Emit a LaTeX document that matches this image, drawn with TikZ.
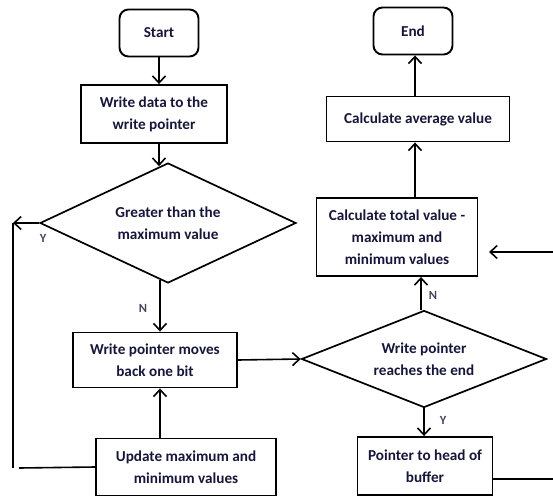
\documentclass[tikz,border=0pt]{standalone}
\usepackage{fontspec}
\setmainfont{Carlito}
\usetikzlibrary{shapes.geometric,arrows.meta}
\definecolor{ink}{RGB}{22,22,58}
\definecolor{lbl}{RGB}{70,68,90}
\begin{document}
\begin{tikzpicture}[x=1pt,y=-1pt,
  box/.style={draw,line width=1.9pt,rectangle,inner sep=0pt,text=ink,
    font=\bfseries\fontsize{15.2}{22}\selectfont,align=center},
  term/.style={box,rounded corners=9pt},
  decision/.style={draw,line width=1.7pt,diamond,shape aspect=2.2,inner sep=0pt,
    text=ink,font=\bfseries\fontsize{15.2}{22}\selectfont,align=center},
  flow/.style={line width=1.6pt,-{Straight Barb[length=7pt,width=13pt]}},
  link/.style={line width=1.6pt},
  lab/.style={text=lbl,font=\bfseries\fontsize{12.5}{14}\selectfont,inner sep=0pt}
]
\useasboundingbox (0,0) rectangle (553,497);

% left column
\node[term,minimum width=79pt,minimum height=47pt] (start) at (159,33) {Start};
\node[box,minimum width=146pt,minimum height=58pt] (write) at (154,114) {Write data to the\\write pointer};
\node[decision,minimum width=256pt,minimum height=120pt] (gt) at (168,223) {Greater than the\\maximum value};
\node[box,minimum width=164pt,minimum height=55pt] (wp) at (155,360) {Write pointer moves\\back one bit};
\node[box,minimum width=180pt,minimum height=57pt] (upd) at (186,467) {Update maximum and\\minimum values};

% right column
\node[term,minimum width=79pt,minimum height=47pt] (end) at (413,31) {End};
\node[box,minimum width=183pt,minimum height=45pt] (avg) at (418,119) {Calculate average value};
\node[box,minimum width=161pt,minimum height=78pt] (calc) at (397,237) {Calculate total value -\\maximum and\\minimum values};
\node[decision,minimum width=245pt,minimum height=97pt] (d2) at (424,359) {Write pointer\\reaches the end};
\node[box,minimum width=135pt,minimum height=58pt] (ptr) at (425,466) {Pointer to head of\\buffer};

% branch labels
\node[lab] (y1) at (43,238) {Y};
\node[lab] (n1) at (143,308) {N};
\node[lab] (n2) at (433,295) {N};
\node[lab] (y2) at (443,420) {Y};

% helper points
\coordinate (win) at ([xshift=5pt]write.north);
\coordinate (wout) at ([xshift=5pt]write.south);
\coordinate (gtin) at ([shift={(-9pt,-4pt)}]gt.north);
\coordinate (gtout) at ([shift={(-8pt,4pt)}]gt.south);
\coordinate (wpin) at ([xshift=5pt]wp.south);
\coordinate (yturn) at (13,223);
\coordinate (ybottom) at (13,468);
\coordinate (ufoot) at (19,468);
\coordinate (d2out) at ([xshift=-3pt]d2.north);
\coordinate (cup) at ([xshift=18pt]calc.north);
\coordinate (aup) at ([xshift=-3pt]avg.north);
\coordinate (rin) at (553,252);
\coordinate (rtip) at (489,252);
\coordinate (rout) at (553,479);

% connectors
\draw[flow] (start.south) -- (win);
\draw[flow] (wout) -- (gtin);
\draw[flow] (gtout) -- (gtout |- wp.north);
\draw[flow] (gt.west) -- (yturn);
\draw[link] (yturn) -- (ybottom);
\draw[link] (upd.west) -- (ufoot);
\draw[flow] (wpin |- upd.north) -- (wpin);
\draw[flow] (wp.east) -- (d2.west);
\draw[flow] (d2out) -- (d2out |- calc.south);
\draw[flow] (d2.south) -- (d2.south |- ptr.north);
\draw[flow] (cup) -- (cup |- avg.south);
\draw[flow] (aup) -- (aup |- end.south);
\draw[flow] (rin) -- (rtip);
\draw[link] (ptr.east |- rout) -- (rout);
\end{tikzpicture}
\end{document}
